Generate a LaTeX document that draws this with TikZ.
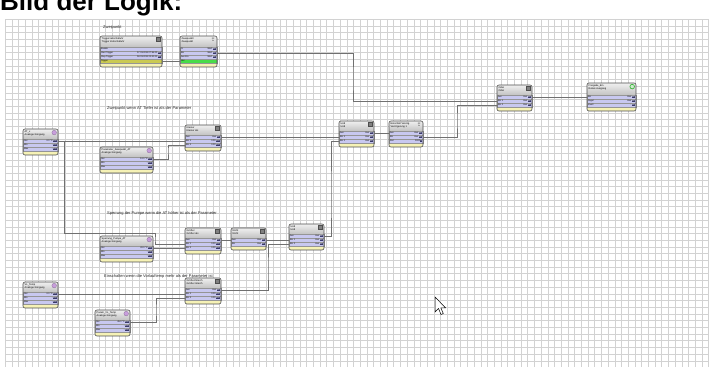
\documentclass[tikz,border=0pt]{standalone}
\usepackage{fontspec}
\setmainfont{Liberation Sans}
\usetikzlibrary{calc}
\definecolor{gridc}{HTML}{D2D2D2}
\definecolor{hdrtop}{HTML}{F0F0F0}
\definecolor{hdrbot}{HTML}{C2C2C2}
\definecolor{rowc}{HTML}{C8C8F0}
\definecolor{botc}{HTML}{F6F2B6}
\definecolor{trigc}{HTML}{CACA52}
\definecolor{greenc}{HTML}{48DC48}
\definecolor{framec}{HTML}{4E4E4E}
\definecolor{wirec}{HTML}{707070}
\definecolor{badge}{HTML}{3A3A6A}
\definecolor{purp}{HTML}{C89EDC}
\definecolor{greenring}{HTML}{3CB43C}
\newcommand\bdg[1]{\kern0.3pt{\setlength{\fboxsep}{0.25pt}\colorbox{badge}{\textcolor{white}{#1}}}}
\tikzset{
 x=1pt, y=-1pt,
 wire/.style={draw=wirec, line width=0.55pt},
 rowbox/.style={draw=framec!60, line width=0.25pt, minimum height=4pt, inner sep=0pt, outer sep=0pt, anchor=north west, font=\fontsize{2.2}{2.5}\selectfont},
 hdrtxt/.style={anchor=north west, inner sep=0pt, align=left, font=\fontsize{2.5}{2.8}\selectfont},
 lbl/.style={anchor=west, inner sep=0pt, font=\fontsize{4}{4.5}\selectfont, text=black!85},
 iconsq/.style={draw=framec, fill=black!50, minimum size=4pt, inner sep=0pt, line width=0.3pt},
 iconcirc/.style={circle, draw=purp!70!black, fill=purp, minimum size=4.6pt, inner sep=0pt, line width=0.3pt},
 icongreen/.style={circle, draw=greenring, fill=greenring!25, minimum size=4.6pt, inner sep=0pt, line width=0.7pt},
 iconzp/.style={inner sep=0pt, minimum size=4pt, label={[inner sep=0pt, align=center, font=\fontsize{2}{2.2}\selectfont]center:{ZP\\ln}}},
}
% #1 name #2 x1 #3 x2 #4 y1 #5 header height #6 rows count #7 header #8 icon style #9 rows
\newcommand\blk[9]{%
  \pgfmathsetmacro\bw{#3-#2}%
  \pgfmathsetmacro\yb{#4+#5+4*#6+4}%
  \begin{scope}
    \clip[rounded corners=2pt] (#2,#4) rectangle (#3,\yb);
    \fill[botc] (#2,#4) rectangle (#3,\yb);
    \shade[top color=hdrtop, bottom color=hdrbot] (#2,#4) rectangle (#3,#4+#5);
  \end{scope}
  \foreach \lab/\val/\col [count=\i] in {#9} {
    \node[rowbox, fill=\col, minimum width=\bw pt] (#1r\i) at (#2,{#4+#5+4*(\i-1)})
      {\hbox to \dimexpr\bw pt-2pt\relax{\lab\hfill\val}};
  }
  \node[hdrtxt] (#1h) at (#2+1.5,#4+1.3) {#7};
  \node[#8] (#1i) at (#3-3.8,#4+3.6) {};
  \draw[framec, rounded corners=2pt, line width=0.6pt] (#2,#4) rectangle (#3,\yb);
}
\begin{document}
\begin{tikzpicture}
\useasboundingbox (0,0) rectangle (709,367);
\fill[white] (0,0) rectangle (709,367);
% grid
\foreach \gx in {5,11.7,...,709} \draw[gridc, line width=0.35pt] (\gx,19) -- (\gx,367);
\foreach \gy in {19,25.7,...,367} \draw[gridc, line width=0.35pt] (5,\gy) -- (709,\gy);
% title
\begin{scope}
  \clip (0,0) rectangle (709,367);
  \node[anchor=base west, inner sep=0pt, font=\fontsize{26}{26}\selectfont\bfseries] (title) at (0,10) {Bild der Logik:};
\end{scope}
% comments
\node[lbl] (c1) at (103,27) {Zweipunkt};
\node[lbl] (c2) at (107,108) {Zweipunkt wenn AT Tiefer ist als der Parameter};
\node[lbl] (c3) at (107,213) {Sperrung der Pumpe wenn die AT höher ist als der Parameter};
\node[lbl] (c4) at (104,276) {Einschalten wenn die Vorlauftemp mehr als der Parameter ist};
% blocks
\blk{trg}{100}{162}{36}{11}{4}{Triggerzeitschaltuhr\\Trigger Zeitschaltuhr}{iconsq}
  {Enable/{}/rowc, Start Trigger/{07.03.2011 07:55:00\bdg{ein}}/rowc, Stop Trigger/{08.03.2011 22:00:00\bdg{ein}}/rowc, Trigger/{}/trigc}
\blk{zp}{180}{217}{36}{11}{4}{Zweipunkt/\\Zweipunkt}{iconzp}
  {I1/{Wert\bdg{ein}}/rowc, Ein/{Wert\bdg{ein}}/rowc, Aus Ein/{Wert\bdg{ein}}/rowc, Out/{}/greenc}
\blk{or}{497}{532}{85}{10}{3}{Oder\\Oder}{iconsq}
  {Aus/{Aus\bdg{ein}}/rowc, Ein 1/{Aus\bdg{ein}}/rowc, Ein 2/{Aus\bdg{ein}}/rowc}
\blk{out}{587}{636}{83}{12}{3}{Freigabe\_Ein\\Relais Ausgang}{icongreen}
  {Ein/{Aus\bdg{ein}}/rowc, Pegel/{Aus\bdg{ein}}/rowc, Invert/{-\bdg{ein}}/rowc}
\blk{at}{23}{58}{129}{10}{3}{AT\_x\\Analoger Eingang}{iconcirc}
  {Out/{0.0 °C\bdg{aus}}/rowc, Min/{-\bdg{aus}}/rowc, Max/{-\bdg{aus}}/rowc}
\blk{pa}{100}{153}{147}{10}{3}{Parameter\_Zweipunkt\_AT\\Analoger Eingang}{iconcirc}
  {Out/{12.0 °C\bdg{aus}}/rowc, Min/{-\bdg{aus}}/rowc, Max/{-\bdg{aus}}/rowc}
\blk{cma}{185}{221}{125}{10}{3}{Kleiner\\Kleiner als}{iconsq}
  {Aus/{Aus\bdg{ein}}/rowc, Ein 1/{0.00\bdg{aus}}/rowc, Ein 2/{0.00\bdg{aus}}/rowc}
\blk{und}{339}{374}{121}{10}{3}{Und\\Und}{iconsq}
  {Aus/{Aus\bdg{ein}}/rowc, Ein 1/{Aus\bdg{ein}}/rowc, Ein 2/{Aus\bdg{ein}}/rowc}
\blk{dly}{389}{423}{121}{10}{3}{Einschalt Verzög.\\Verzögerung 1}{iconzp}
  {Aus/{Aus\bdg{ein}}/rowc, Ein/{Aus\bdg{ein}}/rowc, Zeit/{0000\bdg{s}}/rowc}
\blk{cmb}{185}{221}{228}{10}{3}{Größer\\Größer als}{iconsq}
  {Aus/{Aus\bdg{ein}}/rowc, Ein 1/{0.00\bdg{aus}}/rowc, Ein 2/{0.00\bdg{aus}}/rowc}
\blk{ps}{100}{153}{236}{10}{3}{Sperrung\_Pumpe\_AT\\Analoger Eingang}{iconcirc}
  {Out/{20.0 °C\bdg{aus}}/rowc, Min/{-\bdg{aus}}/rowc, Max/{-\bdg{aus}}/rowc}
\blk{not}{231}{266}{228}{10}{2}{Nicht\\Nicht}{iconsq}
  {Aus/{Aus\bdg{ein}}/rowc, Ein/{Aus\bdg{ein}}/rowc}
\blk{undb}{289}{324}{224}{10}{3}{Und\\Und}{iconsq}
  {Aus/{Aus\bdg{ein}}/rowc, Ein 1/{Aus\bdg{ein}}/rowc, Ein 2/{Aus\bdg{ein}}/rowc}
\blk{cmc}{185}{221}{278}{10}{3}{Größer/Gleich\\Größer Gleich}{iconsq}
  {Aus/{Aus\bdg{ein}}/rowc, Ein 1/{0.00\bdg{aus}}/rowc, Ein 2/{0.00\bdg{aus}}/rowc}
\blk{vl}{23}{58}{282}{10}{3}{VL\_Temp\\Analoger Eingang}{iconcirc}
  {Out/{0.0 °C\bdg{aus}}/rowc, Min/{-\bdg{aus}}/rowc, Max/{-\bdg{aus}}/rowc}
\blk{pv}{95}{130}{310}{10}{3}{Param\_VL\_Temp\\Analoger Eingang}{iconcirc}
  {Out/{45.0 °C\bdg{aus}}/rowc, Min/{-\bdg{aus}}/rowc, Max/{-\bdg{aus}}/rowc}
% wires
\draw[wire] (trgr4.east) -- (zpr4.west);
\draw[wire] (zpr2.east) -| (353,80) |- (orr2.west);
\draw[wire] (orr1.east) -- (outr1.west);
\draw[wire] (dlyr2.east) -| (457,120) |- (orr3.west);
\draw[wire] (undr1.east) -- (dlyr1.west);
\draw[wire] (cmar1.east) -- (undr2.west);
\draw[wire] (atr1.east) -- (cmar2.west);
\draw[wire] (par1.east) -| (168,150) |- (cmar3.west);
\draw[wire] (undbr1.east) -| (331,200) |- (undr3.west);
\draw[wire] (atr1.east) -| (64,233) -| (155,240) |- (cmbr2.west);
\draw[wire] (cmbr1.east) -- (notr1.west);
\draw[wire] (notr1.east) -- (undbr2.west);
\draw[wire] (psr1.east) -- (cmbr3.west);
\draw[wire] (cmcr1.east) -| (268,270) |- (undbr3.west);
\draw[wire] (vlr1.east) -- (cmcr2.west);
\draw[wire] (pvr1.east) -| (156,310) |- (cmcr3.west);
% mouse pointer
\coordinate (cur) at (435,297);
\draw[fill=white, draw=black, line width=0.5pt, line join=miter]
  (cur) -- ++(0,15) -- ++(3.5,-3.5) -- ++(2.5,6) -- ++(2.3,-1) -- ++(-2.5,-5.7) -- ++(4.7,0) -- cycle;
\end{tikzpicture}
\end{document}
